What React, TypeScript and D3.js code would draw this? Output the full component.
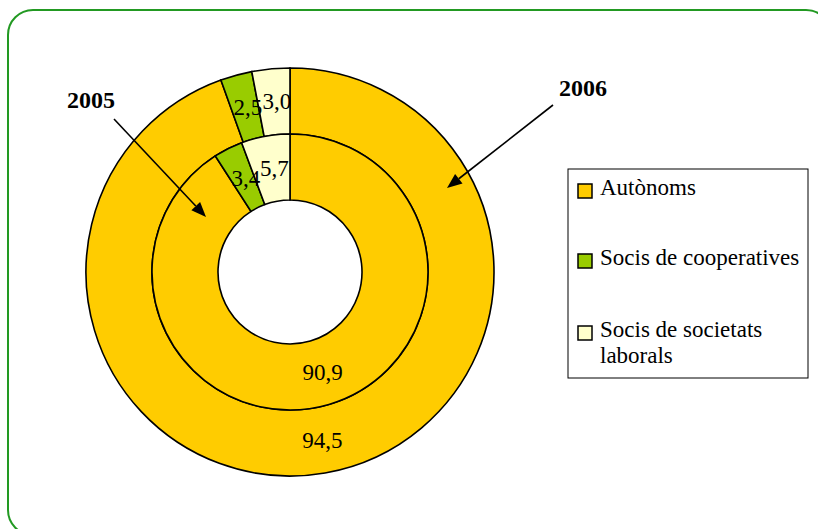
import React from "react";
import * as d3 from "d3";

// Share of self-employed workers by type (%)
const categories = ["Autònoms", "Socis de cooperatives", "Socis de societats laborals"];
const values2005 = [90.9, 3.4, 5.7];
const values2006 = [94.5, 2.5, 3.0];
const colors = ["#FFCC00", "#99CC00", "#FFFFCC"];
const yearLabels = ["2005", "2006"];

const W = 818;
const H = 529;
const cx = 290;
const cy = 272;
const rHole = 72;
const rMid = 138;
const rOuter = 204;
const serif = "Liberation Serif, Times New Roman, Times, serif";

const fmt = (v: number) => v.toFixed(1).replace(".", ",");

function Ring({ values, r0, r1 }: { values: number[]; r0: number; r1: number }) {
  const pie = d3.pie<number>().sort(null).value((d) => d);
  const arcs = pie(values);
  const arc = d3.arc<d3.PieArcDatum<number>>().innerRadius(r0).outerRadius(r1);
  return (
    <g>
      {arcs.map((a, i) => (
        <path key={i} d={arc(a) || ""} fill={colors[i]} stroke="#000" strokeWidth={1.6} />
      ))}
      {arcs.map((a, i) => {
        const [x, y] = arc.centroid(a);
        return (
          <text
            key={"t" + i}
            x={x + 3}
            y={y}
            textAnchor="middle"
            dominantBaseline="central"
            style={{ fontFamily: serif, fontSize: 23 }}
            fill="#000"
          >
            {fmt(values[i])}
          </text>
        );
      })}
    </g>
  );
}

function Arrow({ x1, y1, x2, y2 }: { x1: number; y1: number; x2: number; y2: number }) {
  const ang = Math.atan2(y2 - y1, x2 - x1);
  const len = 15;
  const half = 6;
  const bx = x2 - len * Math.cos(ang);
  const by = y2 - len * Math.sin(ang);
  const px = -Math.sin(ang) * half;
  const py = Math.cos(ang) * half;
  return (
    <g>
      <line x1={x1} y1={y1} x2={bx} y2={by} stroke="#000" strokeWidth={1.6} />
      <polygon points={`${x2},${y2} ${bx + px},${by + py} ${bx - px},${by - py}`} fill="#000" />
    </g>
  );
}

export default function App() {
  const legendY = [191, 261, 333];
  return (
    <svg
      width={W}
      height={H}
      style={{ position: "absolute", left: 0, top: 0, background: "#fff" }}
    >
      <rect x={8} y={10} width={823} height={525} rx={25} ry={25} fill="#fff" stroke="#229922" strokeWidth={2} />

      <g transform={`translate(${cx},${cy})`}>
        <Ring values={values2006} r0={rMid} r1={rOuter} />
        <Ring values={values2005} r0={rHole} r1={rMid} />
      </g>

      <text x={67} y={108} style={{ fontFamily: serif, fontSize: 24, fontWeight: "bold" }}>
        {yearLabels[0]}
      </text>
      <text x={559} y={96} style={{ fontFamily: serif, fontSize: 24, fontWeight: "bold" }}>
        {yearLabels[1]}
      </text>
      <Arrow x1={114} y1={119} x2={206} y2={217} />
      <Arrow x1={553} y1={105} x2={447} y2={188} />

      <g>
        <rect x={568} y={169} width={240} height={209} fill="#fff" stroke="#000" strokeWidth={1} />
        {categories.map((c, i) => (
          <g key={c}>
            <rect
              x={578}
              y={legendY[i] - 7}
              width={14}
              height={14}
              fill={colors[i]}
              stroke="#000"
              strokeWidth={1.5}
            />
            {i < 2 ? (
              <text x={600} y={legendY[i] + 4} style={{ fontFamily: serif, fontSize: 23 }}>
                {c}
              </text>
            ) : (
              <text style={{ fontFamily: serif, fontSize: 23 }}>
                <tspan x={600} y={legendY[i] + 4}>Socis de societats</tspan>
                <tspan x={600} y={legendY[i] + 30}>laborals</tspan>
              </text>
            )}
          </g>
        ))}
      </g>
    </svg>
  );
}
